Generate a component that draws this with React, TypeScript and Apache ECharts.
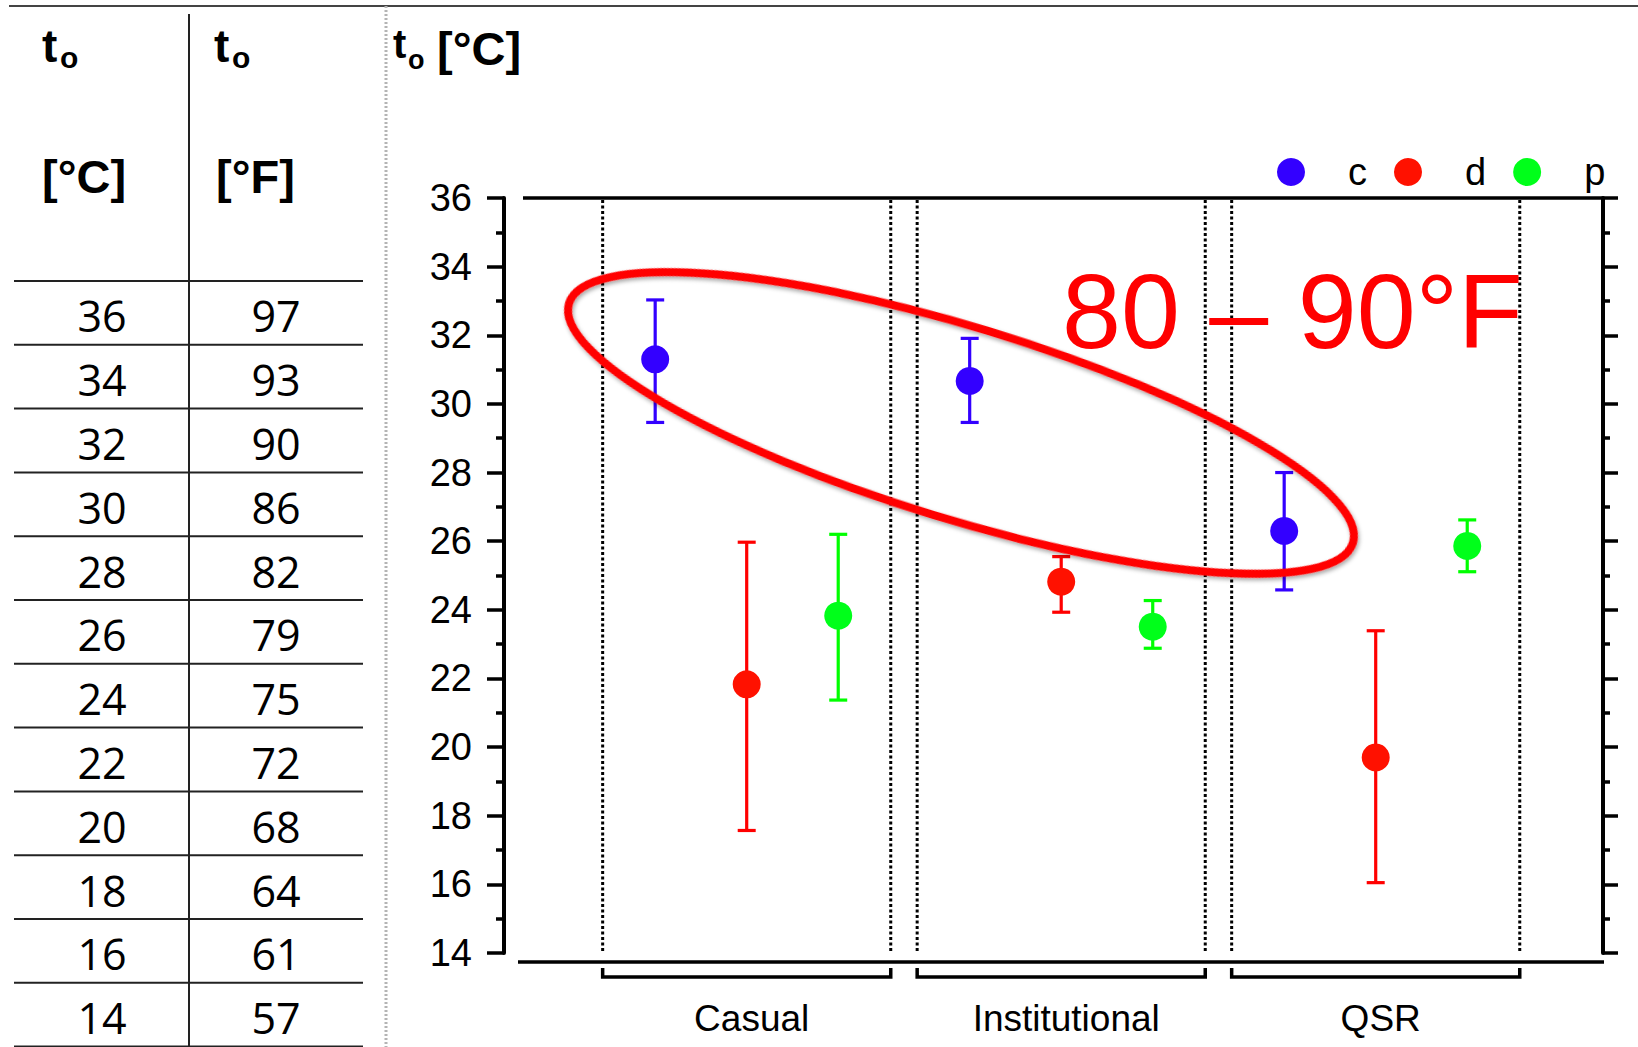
import React, { useEffect, useRef } from "react";
import * as echarts from "echarts";

// ---------- data ----------
const groups = ["Casual", "Institutional", "QSR"];
const seriesNames = ["c", "d", "p"];
const markerColors = ["#3300ff", "#ff1100", "#00ff1a"];
const barColors = ["#3300ff", "#ff0000", "#00ff00"];

const cMean = [31.3, 30.67, 26.3];
const cLow = [29.46, 29.46, 24.58];
const cHigh = [33.03, 31.91, 28.0];

const dMean = [21.83, 24.82, 19.7];
const dLow = [17.57, 23.93, 16.05];
const dHigh = [25.97, 25.55, 23.39];

const pMean = [23.83, 23.51, 25.86];
const pLow = [21.37, 22.88, 25.11];
const pHigh = [26.2, 24.27, 26.62];

const yMin = 14;
const yMax = 36;
const yStep = 2;

const tableC = ["36", "34", "32", "30", "28", "26", "24", "22", "20", "18", "16", "14"];
const tableF = ["97", "93", "90", "86", "82", "79", "75", "72", "68", "64", "61", "57"];

const annotationText = "80 – 90°F";

// ---------- layout constants ----------
const W = 1638;
const H = 1047;
const GRID_L = 504;
const GRID_R = 1603;
const GRID_T = 198;
const GRID_B = 953;
const X_MIN = -0.7717;
const X_MAX = 2.7227;
const OFFSETS = [-0.291, 0, 0.291];
const HALF = 0.458;
const FONT = "'Liberation Sans', Arial, sans-serif";
const TFONT = "'Open Sans', 'Liberation Sans', sans-serif";
const AXW = 3.5;

const means = [cMean, dMean, pMean];
const lows = [cLow, dLow, pLow];
const highs = [cHigh, dHigh, pHigh];

function buildGraphics() {
  const els: any[] = [];
  const line = (x1: number, y1: number, x2: number, y2: number, stroke: string, lw: number, dash?: number[]) =>
    els.push({
      type: "line",
      silent: true,
      shape: { x1, y1, x2, y2 },
      style: { stroke, lineWidth: lw, lineDash: dash },
      z: 10,
    });
  const text = (t: string, x: number, y: number, size: number, opts: any = {}) =>
    els.push({
      type: "text",
      silent: true,
      x,
      y,
      z: 20,
      style: {
        text: t,
        fontSize: size,
        fontFamily: opts.family || FONT,
        fontWeight: opts.weight || "normal",
        fill: opts.fill || "#000",
        align: opts.align || "left",
        verticalAlign: "middle",
      },
    });

  // frame of page
  line(9, 6, W, 6, "#444", 2);
  line(189, 14, 189, H, "#222", 2);
  for (let k = 0; k <= tableC.length; k++) {
    const y = 281 + 63.8 * k;
    line(14, y, 363, y, "#222", 2);
  }
  line(386, 6, 386, H, "#b4b4b4", 3, [2, 2]);

  // table header
  text("t", 42, 46, 46, { weight: "bold" });
  text("o", 60, 57, 30, { weight: "bold" });
  text("[°C]", 42, 176, 47, { weight: "bold" });
  text("t", 214, 46, 46, { weight: "bold" });
  text("o", 232, 57, 30, { weight: "bold" });
  text("[°F]", 216, 176, 47, { weight: "bold" });

  // table rows
  tableC.forEach((v, k) => {
    const cy = 281 + 63.8 * k + 31.9 + 3;
    text(v, 102, cy, 43, { family: TFONT, align: "center" });
    text(tableF[k], 276, cy, 43, { family: TFONT, align: "center" });
  });

  // chart title
  text("t", 393, 44, 40, { weight: "bold" });
  text("o", 408, 60, 27, { weight: "bold" });
  text("[°C]", 437, 48, 47, { weight: "bold" });

  // plot frame lines (top border and detached bottom axis)
  line(523, GRID_T, GRID_R, GRID_T, "#000", AXW);
  line(518, 962, GRID_R + 1, 962, "#000", AXW);

  // annotation ellipse
  els.push({
    type: "ellipse",
    silent: true,
    x: 961,
    y: 423,
    rotation: (-17 * Math.PI) / 180,
    shape: { cx: 0, cy: 0, rx: 410, ry: 96 },
    style: {
      fill: "none",
      stroke: "#ff0000",
      lineWidth: 8,
      shadowBlur: 4,
      shadowOffsetX: 2,
      shadowOffsetY: 2,
      shadowColor: "rgba(0,0,0,0.35)",
    },
    z: 30,
  });
  text(annotationText, 1062, 311, 106, { fill: "#ff0000" });
  return els;
}

export default function App() {
  const ref = useRef<HTMLDivElement>(null);

  useEffect(() => {
    if (!ref.current) return;
    const chart = echarts.init(ref.current, undefined, { renderer: "svg" });

    const scatterSeries = seriesNames.map((name, i) => ({
      name,
      type: "scatter",
      symbol: "circle",
      symbolSize: 28,
      z: 5,
      itemStyle: { color: markerColors[i], opacity: 1 },
      data: groups.map((_, g) => [g + OFFSETS[i], means[i][g]]),
    }));

    const errorSeries = seriesNames.map((name, i) => ({
      name,
      type: "custom",
      z: 4,
      clip: false,
      encode: { x: 0, y: [1, 2] },
      data: groups.map((_, g) => [g + OFFSETS[i], lows[i][g], highs[i][g]]),
      renderItem: (params: any, api: any) => {
        const x = api.value(0);
        const lo = api.coord([x, api.value(1)]);
        const hi = api.coord([x, api.value(2)]);
        const st = { stroke: barColors[i], lineWidth: 3.2 };
        return {
          type: "group",
          children: [
            { type: "line", shape: { x1: lo[0], y1: lo[1], x2: hi[0], y2: hi[1] }, style: st },
            { type: "line", shape: { x1: hi[0] - 9, y1: hi[1], x2: hi[0] + 9, y2: hi[1] }, style: st },
            { type: "line", shape: { x1: lo[0] - 9, y1: lo[1], x2: lo[0] + 9, y2: lo[1] }, style: st },
          ],
        };
      },
    }));

    const frameSeries = {
      name: "groups",
      type: "custom",
      z: 1,
      clip: false,
      silent: true,
      encode: { x: 0, y: [1, 2] },
      data: groups.map((_, g) => [g, yMin, yMax]),
      renderItem: (params: any, api: any) => {
        const g = api.value(0);
        const lt = api.coord([g - HALF, api.value(2)]);
        const lb = api.coord([g - HALF, api.value(1)]);
        const rt = api.coord([g + HALF, api.value(2)]);
        const rb = api.coord([g + HALF, api.value(1)]);
        const dash = { stroke: "#000", lineWidth: 3, lineDash: [3, 2.5] };
        return {
          type: "group",
          children: [
            { type: "line", shape: { x1: lt[0], y1: lt[1] + 2, x2: lb[0], y2: lb[1] }, style: dash },
            { type: "line", shape: { x1: rt[0], y1: rt[1] + 2, x2: rb[0], y2: rb[1] }, style: dash },
            {
              type: "polyline",
              shape: {
                points: [
                  [lb[0], lb[1] + 15],
                  [lb[0], lb[1] + 24],
                  [rb[0], rb[1] + 24],
                  [rb[0], rb[1] + 15],
                ],
              },
              style: { stroke: "#000", lineWidth: AXW, fill: "none" },
            },
          ],
        };
      },
    };

    const yCommon = {
      type: "value",
      min: yMin,
      max: yMax,
      interval: yStep,
      splitLine: { show: false },
      axisLine: { show: true, onZero: false, lineStyle: { color: "#000", width: AXW + 0.5 } },
      minorSplitLine: { show: false },
    };

    chart.setOption({
      animation: false,
      backgroundColor: "#ffffff",
      textStyle: { fontFamily: FONT },
      grid: { left: GRID_L, right: W - GRID_R, top: GRID_T, bottom: H - GRID_B, containLabel: false },
      legend: {
        data: seriesNames.map((n) => ({ name: n, icon: "circle" })),
        left: 1277,
        top: 153,
        padding: 0,
        itemWidth: 28,
        itemHeight: 28,
        itemGap: 27,
        selectedMode: false,
        textStyle: { fontSize: 38, color: "#000", fontFamily: FONT, padding: [0, 0, 0, 38] },
      },
      xAxis: {
        type: "value",
        min: X_MIN,
        max: X_MAX,
        splitLine: { show: false },
        axisLine: { show: false },
        axisTick: { show: false },
        axisLabel: {
          customValues: [0, 1, 2],
          formatter: (v: number) => groups[Math.round(v)] || "",
          fontSize: 37,
          color: "#000",
          fontFamily: FONT,
          margin: 47,
          padding: [0, 0, 0, 10],
        },
      },
      yAxis: [
        {
          ...yCommon,
          position: "left",
          axisTick: { show: true, length: 17, lineStyle: { color: "#000", width: AXW } },
          minorTick: { show: true, splitNumber: 2, length: 8, lineStyle: { color: "#000", width: AXW } },
          axisLabel: {
            fontSize: 38,
            color: "#000",
            fontFamily: FONT,
            margin: 32,
            padding: [12, 0, 0, 0],
          },
        },
        {
          ...yCommon,
          position: "right",
          axisTick: { show: true, length: 15, lineStyle: { color: "#000", width: AXW } },
          minorTick: { show: true, splitNumber: 2, length: 7, lineStyle: { color: "#000", width: AXW } },
          axisLabel: { show: false },
        },
      ],
      series: [...scatterSeries, ...errorSeries, frameSeries],
      graphic: { elements: buildGraphics() },
    });

    return () => chart.dispose();
  }, []);

  return (
    <div
      ref={ref}
      style={{ position: "absolute", left: 0, top: 0, width: W, height: H, background: "#fff" }}
    />
  );
}
